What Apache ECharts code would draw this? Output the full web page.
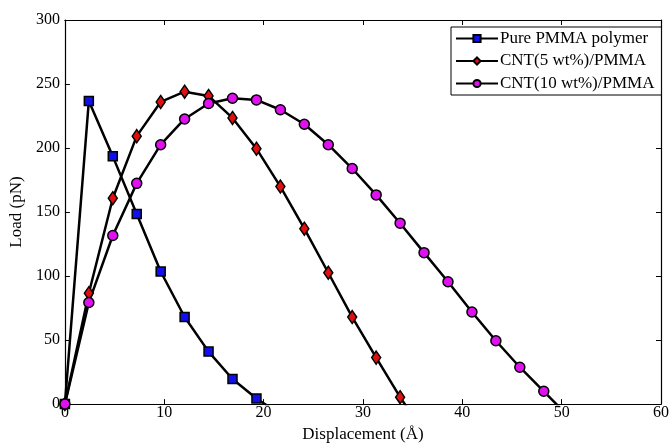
<!DOCTYPE html>
<html>
<head>
<meta charset="utf-8">
<script src="https://cdn.jsdelivr.net/npm/echarts@6/dist/echarts.min.js"></script>
<style>html,body{margin:0;padding:0;background:#fff}#c{width:672px;height:448px}</style>
</head>
<body>
<div id="c"></div>
<script>
// Displacement (Å) values at sampled points
const dispPure = [0, 2.41, 4.82, 7.23, 9.64, 12.05, 14.46, 16.87, 19.28, 21.69];
const loadPure = [0, 236.8, 193.5, 148.5, 103.6, 68, 41, 19.6, 4.4, -8];

const disp5 = [0, 2.41, 4.82, 7.23, 9.64, 12.05, 14.46, 16.87, 19.28, 21.69, 24.1, 26.51, 28.92, 31.33, 33.74, 36.15];
const load5 = [0, 86.6, 160.8, 209.3, 236, 244, 240.7, 223.5, 199.5, 169.9, 137, 102.6, 68, 36.3, 5.4, -22];

const disp10 = [0, 2.41, 4.82, 7.23, 9.64, 12.05, 14.46, 16.87, 19.28, 21.69, 24.1, 26.51, 28.92, 31.33, 33.74, 36.15, 38.56, 40.97, 43.38, 45.79, 48.2, 50.61];
const load10 = [0, 79.4, 131.7, 172.4, 202.6, 222.7, 234.8, 238.9, 237.6, 229.9, 218.6, 202.6, 184, 163.4, 141.3, 118.3, 95.6, 71.9, 49.5, 28.8, 10, -9];

const seriesNames = ['Pure PMMA polymer', 'CNT(5 wt%)/PMMA', 'CNT(10 wt%)/PMMA'];
const xTicks = [0, 10, 20, 30, 40, 50, 60];
const yTicks = [0, 50, 100, 150, 200, 250, 300];

const pair = (xs, ys) => xs.map((x, i) => [x, ys[i]]);
const font = 'Liberation Serif';

const chart = echarts.init(document.getElementById('c'), null, {renderer: 'canvas'});
const axisCommon = {
  axisLine: {show: true, onZero: false, lineStyle: {color: '#000', width: 1.2}},
  axisTick: {show: true, inside: true, length: 5, lineStyle: {color: '#000', width: 1}},
  splitLine: {show: false}
};
chart.setOption({
  animation: false,
  backgroundColor: '#fff',
  grid: {left: 61, right: 9, top: 20, bottom: 40, containLabel: false},
  legend: {
    orient: 'vertical', left: 451, top: 27,
    backgroundColor: '#fff', borderColor: '#000', borderWidth: 1,
    padding: [3, 7, 3, 4], itemGap: 5.5, itemWidth: 42, itemHeight: 9,
    textStyle: {fontFamily: font, fontSize: 17, color: '#000', padding: [0, 0, 0, -3]},
    data: seriesNames
  },
  xAxis: [
    Object.assign({}, axisCommon, {
      type: 'value', min: xTicks[0], max: xTicks[xTicks.length - 1], interval: 10,
      name: 'Displacement (Å)', nameLocation: 'middle', nameGap: 20,
      nameTextStyle: {fontFamily: font, fontSize: 17, color: '#000'},
      axisLabel: {fontFamily: font, fontSize: 16, color: '#000', margin: 1}
    }),
    Object.assign({}, axisCommon, {
      type: 'value', position: 'top', min: xTicks[0], max: xTicks[xTicks.length - 1], interval: 10,
      axisLabel: {show: false}
    })
  ],
  yAxis: [
    Object.assign({}, axisCommon, {
      type: 'value', min: yTicks[0], max: yTicks[yTicks.length - 1], interval: 50,
      name: 'Load (pN)', nameLocation: 'middle', nameGap: 34,
      nameTextStyle: {fontFamily: font, fontSize: 17, color: '#000'},
      axisLabel: {fontFamily: font, fontSize: 16, color: '#000', margin: 5}
    }),
    Object.assign({}, axisCommon, {
      type: 'value', position: 'right', min: yTicks[0], max: yTicks[yTicks.length - 1], interval: 50,
      axisLabel: {show: false}
    })
  ],
  series: [
    {
      name: seriesNames[0], type: 'line', data: pair(dispPure, loadPure), clip: true,
      symbol: 'rect', symbolSize: 9,
      lineStyle: {color: '#000', width: 2.5},
      itemStyle: {color: '#1010ee', borderColor: '#000', borderWidth: 1.5}
    },
    {
      name: seriesNames[1], type: 'line', data: pair(disp5, load5), clip: true,
      symbol: 'diamond', symbolSize: [9, 13],
      lineStyle: {color: '#000', width: 2.5},
      itemStyle: {color: '#e01010', borderColor: '#000', borderWidth: 1.5}
    },
    {
      name: seriesNames[2], type: 'line', data: pair(disp10, load10), clip: true,
      symbol: 'circle', symbolSize: 10,
      lineStyle: {color: '#000', width: 2.5},
      itemStyle: {color: '#e010f0', borderColor: '#000', borderWidth: 1.5}
    }
  ]
});
</script>
</body>
</html>
